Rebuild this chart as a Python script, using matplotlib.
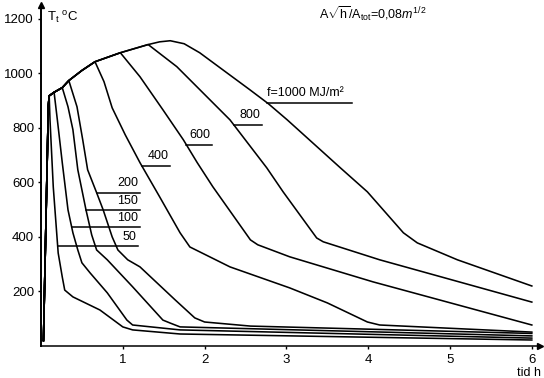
import numpy as np
import matplotlib
matplotlib.use("Agg")
import matplotlib.pyplot as plt

plt.rcParams['font.family'] = ['Liberation Sans', 'DejaVu Sans']
plt.rcParams['mathtext.fontset'] = 'custom'
plt.rcParams['mathtext.rm'] = 'Liberation Sans'
plt.rcParams['mathtext.it'] = 'Liberation Sans:italic'

# Shared heating branch: time (h) and gas temperature (°C)
env_t = [0.03, 0.09, 0.10, 0.16, 0.26, 0.34, 0.50, 0.66, 0.97, 1.31]
env_T = [20, 880, 917, 930, 947, 973, 1010, 1042, 1075, 1105]

# Cooling branches per fire load density f (MJ/m2)
f_loads = [50, 100, 150, 200, 400, 600, 800, 1000]

t_50 = [0.10, 0.11, 0.15, 0.21, 0.26, 0.29, 0.39, 0.72, 1.00, 1.12, 1.70, 6.0]
T_50 = [917, 829, 583, 341, 253, 205, 180, 132, 70, 59, 44, 22]

t_100 = [0.16, 0.20, 0.26, 0.33, 0.39, 0.45, 0.50, 0.60, 0.81, 1.05, 1.12, 1.70, 6.0]
T_100 = [930, 829, 672, 499, 415, 352, 305, 268, 195, 95, 77, 59, 29]

t_150 = [0.26, 0.33, 0.39, 0.45, 0.55, 0.62, 0.68, 0.81, 1.12, 1.49, 1.58, 1.70, 6.0]
T_150 = [947, 877, 793, 646, 499, 407, 352, 316, 217, 95, 84, 70, 37]

t_200 = [0.34, 0.44, 0.51, 0.57, 0.68, 0.76, 0.87, 0.94, 1.06, 1.21, 1.64, 1.88, 2.00, 2.56, 6.0]
T_200 = [973, 877, 756, 646, 562, 499, 400, 352, 316, 290, 169, 103, 88, 73, 46]

t_400 = [0.66, 0.77, 0.87, 1.03, 1.21, 1.45, 1.70, 1.82, 2.31, 3.04, 3.50, 3.99, 4.14, 6.0]
T_400 = [1042, 969, 873, 774, 672, 547, 415, 363, 290, 213, 158, 88, 77, 51]

t_600 = [0.97, 1.21, 1.49, 1.74, 1.91, 2.10, 2.56, 2.65, 3.04, 4.06, 6.0]
T_600 = [1075, 987, 866, 756, 672, 584, 389, 371, 327, 235, 77]

t_800 = [1.31, 1.66, 1.98, 2.31, 2.76, 2.96, 3.37, 3.45, 4.14, 6.0]
T_800 = [1105, 1024, 928, 829, 653, 565, 396, 382, 316, 161]

t_1000 = [1.31, 1.45, 1.58, 1.75, 1.94, 2.22, 2.55, 2.78, 3.01, 3.66, 3.99, 4.43, 4.60, 5.09, 6.0]
T_1000 = [1105, 1115, 1119, 1108, 1075, 1013, 940, 888, 829, 653, 565, 415, 378, 316, 220]

branches = {
    50: (t_50, T_50), 100: (t_100, T_100), 150: (t_150, T_150),
    200: (t_200, T_200), 400: (t_400, T_400), 600: (t_600, T_600),
    800: (t_800, T_800), 1000: (t_1000, T_1000),
}

# Curve labels: text, temperature of the leader line, time where it ends
label_text = ["50", "100", "150", "200", "400", "600", "800", "f=1000 MJ/m²"]
label_T = [367, 437, 499, 562, 661, 738, 811, 892]
label_end = [1.19, 1.21, 1.21, 1.21, 1.58, 2.09, 2.70, 3.80]

x_ticks = [1, 2, 3, 4, 5, 6]
y_ticks = [200, 400, 600, 800, 1000, 1200]

fig = plt.figure(figsize=(5.44, 3.78), dpi=100)
ax = fig.add_axes([41 / 544, 32 / 378, 499 / 544, 341 / 378])
ax.set_xlim(0, 6.1)
ax.set_ylim(0, 1250)

for f in f_loads:
    td, Td = branches[f]
    ev_t = [t for t in env_t if t < td[0]]
    ev_T = env_T[:len(ev_t)]
    ax.plot(ev_t + td, ev_T + Td, color='black', lw=1.15, solid_joinstyle='round')

for f, txt, T_lab, t_end in zip(f_loads, label_text, label_T, label_end):
    td, Td = branches[f]
    k = int(np.argmax(Td))
    t_start = np.interp(T_lab, Td[k:][::-1], td[k:][::-1])
    ax.plot([t_start, t_end], [T_lab, T_lab], color='black', lw=1.1)
    if f == 1000:
        ax.text(t_start, T_lab + 12, txt, ha='left', va='bottom', fontsize=9)
    else:
        ax.text(t_end - 0.02, T_lab + 12, txt, ha='right', va='bottom', fontsize=9)

ax.spines['top'].set_visible(False)
ax.spines['right'].set_visible(False)
ax.spines['left'].set_linewidth(1.4)
ax.spines['bottom'].set_linewidth(1.1)
ax.set_xticks(x_ticks)
ax.set_yticks(y_ticks)
ax.set_xticklabels([str(v) for v in x_ticks])
ax.set_yticklabels([str(v) for v in y_ticks])
ax.tick_params(axis='both', length=2.5, width=1, labelsize=9.5, pad=2.5)
ax.tick_params(axis='x', pad=3)

# axis arrow heads
ax.plot(0, 1, marker='^', color='black', markersize=5,
        transform=ax.transAxes, clip_on=False)
ax.plot(1, 0, marker='>', color='black', markersize=5,
        transform=ax.transAxes, clip_on=False)

fig.text(47 / 544, 1 - 18 / 378, r"T$_\mathrm{t}$ $^\mathrm{o}$C", fontsize=9.5,
         ha='left', va='center')
fig.text(517 / 544, 1 - 373 / 378, "tid h", fontsize=9, ha='left', va='center')
fig.text(319 / 544, 1 - 14 / 378,
         r"A$\sqrt{\mathrm{h}}$/A$_\mathrm{tot}$=0,08$m^{1/2}$",
         fontsize=9, ha='left', va='center')

fig.savefig("out.png", dpi=100)
